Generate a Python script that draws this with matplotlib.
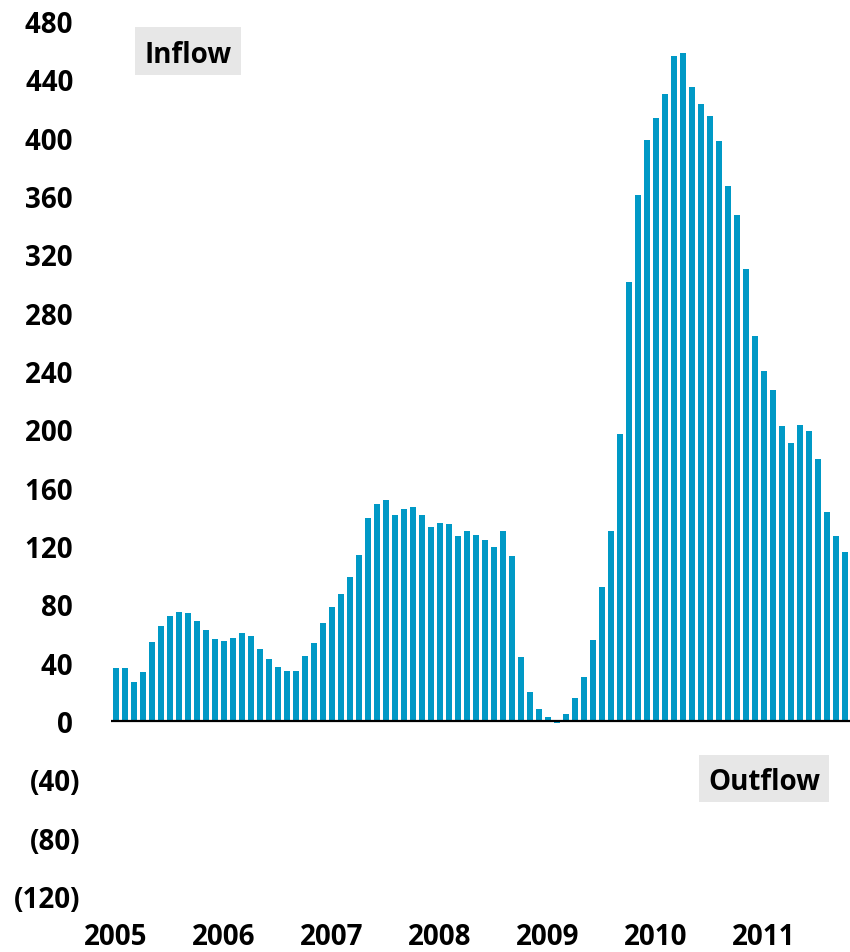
import numpy as np
import pandas as pd
import matplotlib
matplotlib.use("Agg")
import matplotlib.pyplot as plt
from matplotlib.patches import Rectangle

plt.rcParams['font.family'] = ['Open Sans', 'DejaVu Sans']
plt.rcParams['font.weight'] = 'bold'

# monthly net flows, Jan 2005 - Oct 2011
months = pd.date_range("2005-01-01", "2011-10-01", freq="MS")
flow_2005 = [36.1, 36.6, 26.7, 33.8, 54.0, 65.2, 72.2, 74.5, 73.8, 68.4, 62.6, 56.2]
flow_2006 = [54.6, 57.1, 60.6, 58.1, 49.4, 42.5, 36.8, 34.3, 34.1, 44.8, 53.5, 67.4]
flow_2007 = [77.9, 87.0, 98.9, 113.8, 139.2, 148.8, 151.8, 141.5, 145.4, 146.8, 141.1, 132.8]
flow_2008 = [136.0, 134.9, 126.6, 130.1, 127.3, 123.9, 119.1, 130.5, 113.4, 43.9, 20.0, 8.5]
flow_2009 = [3.0, -1.5, 4.5, 15.8, 30.0, 55.8, 91.7, 130.2, 197.0, 300.9, 361.0, 398.7]
flow_2010 = [413.5, 430.1, 456.3, 457.8, 434.5, 422.9, 415.0, 397.8, 367.2, 346.7, 310.0, 264.1]
flow_2011 = [239.7, 226.7, 202.3, 190.7, 202.8, 198.7, 179.7, 143.5, 127.2, 115.9]
flows = flow_2005 + flow_2006 + flow_2007 + flow_2008 + flow_2009 + flow_2010 + flow_2011

y_ticks = [-120, -80, -40, 0, 40, 80, 120, 160, 200, 240, 280, 320, 360, 400, 440, 480]

W, H = 850, 953
fig = plt.figure(figsize=(W / 100, H / 100), dpi=100)
ax = fig.add_axes([111.5 / W, 1 - 897 / H, 738 / W, 875 / H])

x = np.arange(len(flows))
ax.bar(x, flows, width=0.63, color='#0099C6', zorder=2)
ax.axhline(0, color='black', linewidth=1.6, zorder=3)

ax.set_xlim(-0.5, len(flows) - 0.5)
ax.set_ylim(-120, 480)

# year labels under the January bar of each year
year_idx = [i for i, m in enumerate(months) if m.month == 1]
ax.set_xticks(year_idx)
ax.set_xticklabels([str(months[i].year) for i in year_idx], fontsize=20, fontweight='bold')

def fmt(v):
    return f"({abs(v)})" if v < 0 else f"{v} "

ax.set_yticks(y_ticks)
ax.set_yticklabels([fmt(v) for v in y_ticks], fontsize=20, fontweight='bold')
ax.tick_params(axis='y', length=0, pad=22.5)
ax.tick_params(axis='x', length=0, pad=18.5)

for s in ax.spines.values():
    s.set_visible(False)

# shaded captions
def caption(x0, y0, x1, y1, text):
    fig.patches.append(Rectangle((x0 / W, 1 - y1 / H), (x1 - x0) / W, (y1 - y0) / H,
                                 transform=fig.transFigure, facecolor='#E7E7E7',
                                 edgecolor='none', zorder=5))
    fig.text((x0 + x1) / 2 / W, 1 - (y0 + y1) / 2 / H, text, ha='center',
             va='center_baseline', fontsize=20, fontweight='bold', zorder=6)

caption(135, 28, 241, 76, "Inflow")
caption(699, 756, 829, 803, "Outflow")

fig.savefig("out.png", dpi=100)
